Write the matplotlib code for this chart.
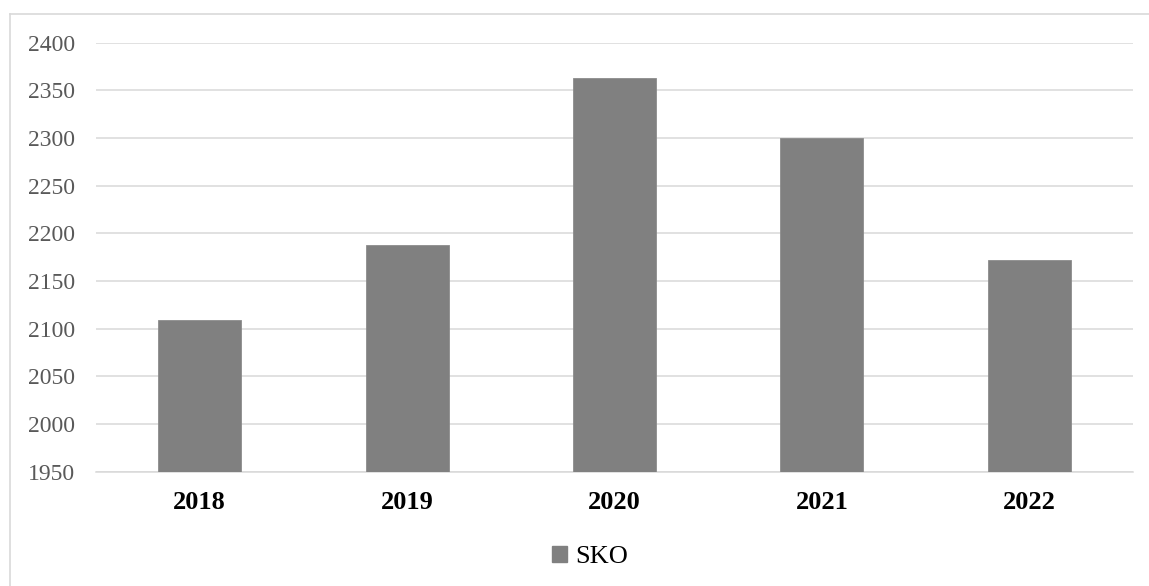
import matplotlib.pyplot as plt
from matplotlib.patches import Patch
from matplotlib.lines import Line2D

# chart data
years = ["2018", "2019", "2020", "2021", "2022"]
sko = [2109, 2188, 2363, 2300, 2172]
y_ticks = [1950, 2000, 2050, 2100, 2150, 2200, 2250, 2300, 2350, 2400]
series_name = "SKO"

W, H = 1149, 586
plt.rcParams['font.family'] = ['Liberation Serif', 'DejaVu Serif']

fig = plt.figure(figsize=(W / 100, H / 100), dpi=100)
ax = fig.add_axes([96 / W, 1 - 471.7 / H, (1133 - 96) / W, (471.7 - 42.7) / H])

ax.bar(years, sko, width=0.4, color='#808080', edgecolor='#8c8c8c',
       linewidth=0.6, zorder=3, label=series_name)
ax.set_ylim(1950, 2400)
ax.set_xlim(-0.5, len(years) - 0.5)
ax.set_yticks(y_ticks)
ax.yaxis.grid(True, color='#d9d9d9', linewidth=1.1, zorder=0)
ax.set_axisbelow(True)

for s in ['top', 'right', 'left']:
    ax.spines[s].set_visible(False)
ax.spines['bottom'].set_color('#d9d9d9')
ax.spines['bottom'].set_linewidth(1.1)

ax.tick_params(axis='y', length=0, pad=15, labelsize=17, labelcolor='#595959')
ax.tick_params(axis='x', length=0, pad=14, labelsize=19)
for lbl in ax.get_xticklabels():
    lbl.set_fontweight('bold')
    lbl.set_color('black')

# legend below the axis
handle = Patch(facecolor='#808080', edgecolor='#808080')
fig.legend([handle], [series_name], loc='center',
           bbox_to_anchor=(590 / W, 1 - 557 / H), frameon=False,
           fontsize=19, handlelength=0.55, handleheight=0.55,
           handletextpad=0.3, borderpad=0)

# chart area border (only top and left edges are visible)
fig.add_artist(Line2D([9.5 / W, 9.5 / W], [0, 1 - 13.5 / H],
                      color='#d9d9d9', linewidth=1.2))
fig.add_artist(Line2D([9.5 / W, 1], [1 - 13.5 / H, 1 - 13.5 / H],
                      color='#d9d9d9', linewidth=1.2))

fig.savefig('out.png', dpi=100)
